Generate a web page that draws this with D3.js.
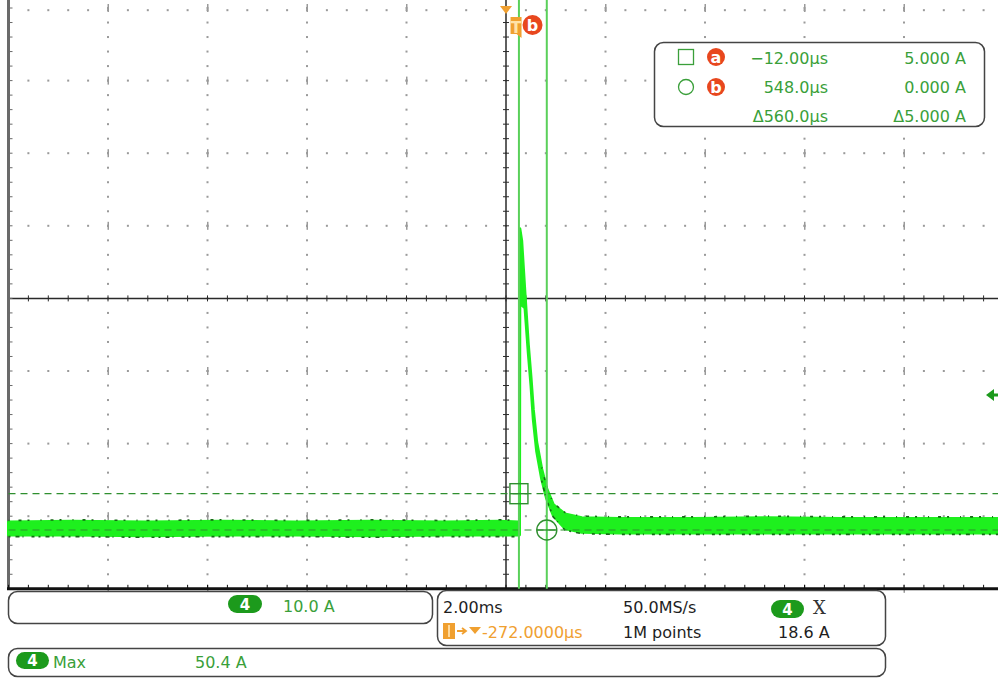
<!DOCTYPE html>
<html>
<head>
<meta charset="utf-8">
<script src="https://cdn.jsdelivr.net/npm/d3@7"></script>
<style>
  body { margin: 0; background: #fff; }
  svg { display: block; font-family: "DejaVu Sans", sans-serif; }
</style>
</head>
<body>
<svg id="scope" width="998" height="678"></svg>
<script>
// scope settings
const timePerDiv = 2000;   // µs
const horizDelay = -272;   // µs, screen centre relative to trigger
const ampsPerDiv = 10;
const centerAmps = 31.9;   // A on the centre graticule line
const triggerLevel = 18.6; // A

// channel 4 trace envelope (µs, A)
const traceTime = [-10272, -9000, -7500, -6000, -4500, -3000, -1500, -400, -20, -1, 6, 44, 110, 176, 231, 277, 345, 446, 546, 679, 914, 1250, 2000, 3500, 5000, 6500, 8000, 9728];
const traceMax = [1.1, 1.2, 1.1, 1.2, 1.1, 1.2, 1.1, 1.2, 1.1, 1.1, 41.5, 39.8, 32.5, 25.6, 21.0, 16.6, 12.1, 8.4, 5.7, 3.5, 2.2, 1.7, 1.6, 1.6, 1.7, 1.6, 1.6, 1.6];
const traceMin = [-0.7, -0.7, -0.8, -0.7, -0.7, -0.8, -0.7, -0.7, -0.7, -0.7, 33.5, 31.0, 30.6, 24.4, 19.8, 15.2, 10.8, 7.0, 4.3, 2.0, 0.2, -0.3, -0.4, -0.4, -0.4, -0.4, -0.4, -0.4];

// cursors
const cursorTime = [-12, 548];
const cursorAmps = [5.0, 0.0];
const cursorNames = ["a", "b"];
const readTime = ["\u221212.00\u00b5s", "548.0\u00b5s", "\u0394560.0\u00b5s"];
const readAmps = ["5.000 A", "0.000 A", "\u03945.000 A"];

// status bar texts
const chanScale = "10.0 A";
const horizTexts = ["2.00ms", "50.0MS/s"];
const horizTexts2 = ["-272.0000\u00b5s", "1M points"];
const trigTexts = ["X", "18.6 A"];
const measName = "Max";
const measValue = "50.4 A";

const green = "#3a9f3a", pill = "#1c9a1c", trace = "#1ef01e", orange = "#f0a030", red = "#e8471e";
const fs = 16;

const svg = d3.select("#scope");
const plotLeft = 8.5, divW = 99.5, plotTop = 8, divH = 72.6;

const x = d3.scaleLinear()
  .domain([horizDelay - 5 * timePerDiv, horizDelay + 5 * timePerDiv])
  .range([plotLeft, plotLeft + 10 * divW]);
const y = d3.scaleLinear()
  .domain([centerAmps - 4 * ampsPerDiv, centerAmps + 4 * ampsPerDiv])
  .range([plotTop + 8 * divH, plotTop]);

const plotBottom = y.range()[0];
const minorT = d3.range(-25, 26).map(i => horizDelay + i * timePerDiv / 5);
const minorA = d3.range(-20, 21).map(i => centerAmps + i * ampsPerDiv / 5);
const majorT = d3.range(-4, 5).filter(i => i !== 0).map(i => horizDelay + i * timePerDiv);
const majorA = d3.range(-4, 4).filter(i => i !== 0).map(i => centerAmps + i * ampsPerDiv);

// graticule dots
const grid = svg.append("g").attr("fill", "#9a9a9a");
majorT.forEach(t => {
  grid.selectAll(null).data(minorA.slice(1)).enter().append("rect")
    .attr("x", x(t) - 1).attr("y", d => y(d) - 1).attr("width", 2).attr("height", 2);
  grid.selectAll(null).data(majorA.concat([centerAmps + 40])).enter().append("rect")
    .attr("x", x(t) - 0.5).attr("y", d => y(d) - 4).attr("width", 1.5).attr("height", 8);
});
majorA.concat([centerAmps + 4 * ampsPerDiv - 0.3]).forEach(a => {
  grid.selectAll(null).data(minorT.filter(t => x(t) > plotLeft + 2)).enter().append("rect")
    .attr("x", d => x(d) - 1).attr("y", y(a) - 1).attr("width", 2).attr("height", 2);
});

// centre lines with minor ticks
const centre = svg.append("g").attr("stroke", "#2a2a2a");
centre.append("line").attr("x1", plotLeft).attr("x2", 998)
  .attr("y1", y(centerAmps)).attr("y2", y(centerAmps)).attr("stroke-width", 1.5);
centre.append("line").attr("x1", x(horizDelay)).attr("x2", x(horizDelay))
  .attr("y1", 0).attr("y2", plotBottom).attr("stroke-width", 1.5);
centre.selectAll(null).data(minorT).enter().append("line")
  .attr("x1", d => x(d)).attr("x2", d => x(d))
  .attr("y1", y(centerAmps) - 3).attr("y2", y(centerAmps) + 3).attr("stroke-width", 1);
centre.selectAll(null).data(minorA).enter().append("line")
  .attr("x1", x(horizDelay) - 3).attr("x2", x(horizDelay) + 3)
  .attr("y1", d => y(d)).attr("y2", d => y(d)).attr("stroke-width", 1);

// frame: left and bottom edges with ticks
svg.append("line").attr("x1", plotLeft).attr("x2", plotLeft).attr("y1", 0).attr("y2", plotBottom)
  .attr("stroke", "#6a6a6a").attr("stroke-width", 3);
svg.selectAll(null).data(minorA).enter().append("line")
  .attr("x1", plotLeft).attr("x2", plotLeft + 4).attr("y1", d => y(d)).attr("y2", d => y(d))
  .attr("stroke", "#6a6a6a");
svg.append("line").attr("x1", plotLeft - 1.5).attr("x2", 998).attr("y1", plotBottom).attr("y2", plotBottom)
  .attr("stroke", "#111").attr("stroke-width", 3);
svg.selectAll(null).data(minorT).enter().append("line")
  .attr("x1", d => x(d)).attr("x2", d => x(d)).attr("y1", plotBottom).attr("y2", plotBottom - 4)
  .attr("stroke", "#111");

// cursor lines
const cur = svg.append("g");
cur.selectAll(null).data(cursorAmps).enter().append("line")
  .attr("x1", plotLeft).attr("x2", 998).attr("y1", d => y(d)).attr("y2", d => y(d))
  .attr("stroke", "#2f8f2f").attr("stroke-width", 1.2).attr("stroke-dasharray", "7,5");

// trace
const pts = traceTime.map((t, i) => ({ t, hi: traceMax[i], lo: traceMin[i] }));
const area = d3.area().x(d => x(d.t)).y0(d => y(d.lo)).y1(d => y(d.hi));
svg.append("path").datum(pts).attr("d", area)
  .attr("fill", trace).attr("stroke", trace).attr("stroke-width", 3).attr("stroke-linejoin", "round");

// darker noise spikes along the band edges (pre-trigger and settled parts only)
const edge = (key) => d3.line().x(d => x(d.t)).y(d => y(d[key]));
const segments = [pts.filter(d => d.t < -5), pts.filter(d => d.t > 400)];
segments.forEach(seg => {
  ["hi", "lo"].forEach((k, i) => {
    svg.append("path").datum(seg).attr("d", edge(k))
      .attr("fill", "none").attr("stroke", "#176a17").attr("stroke-width", 1.6)
      .attr("stroke-dasharray", i ? "2,5,4,3,1,8,3,4" : "1,9,3,6,2,11")
      .attr("transform", `translate(0,${i ? 1.5 : -1.5})`);
  });
});

cur.raise();
cur.selectAll(null).data(cursorTime).enter().append("line")
  .attr("x1", d => x(d)).attr("x2", d => x(d)).attr("y1", 0).attr("y2", plotBottom)
  .attr("stroke", "#5ad05a").attr("stroke-width", 2);

// cursor markers
const mk = svg.append("g").attr("fill", "none").attr("stroke", "#2f8f2f").attr("stroke-width", 1.4);
const ax = x(cursorTime[0]), ay = y(cursorAmps[0]);
const bx = x(cursorTime[1]), by = y(cursorAmps[1]);
mk.append("rect").attr("x", ax - 9).attr("y", ay - 10).attr("width", 18).attr("height", 20);
mk.append("line").attr("x1", ax - 9).attr("x2", ax + 9).attr("y1", ay).attr("y2", ay);
mk.append("circle").attr("cx", bx).attr("cy", by).attr("r", 10);
mk.append("line").attr("x1", bx - 10).attr("x2", bx + 10).attr("y1", by).attr("y2", by);

// trigger level marker on the right
const ty = y(triggerLevel);
svg.append("path").attr("d", `M986,${ty} L994,${ty - 6} L994,${ty + 6} Z M992,${ty - 1.5} H998 V${ty + 1.5} H992 Z`)
  .attr("fill", pill);

// trigger position markers on top
const cx0 = x(horizDelay), tx = x(0);
svg.append("path").attr("d", `M${cx0 - 6},6 L${cx0 + 6},6 L${cx0},14 Z`).attr("fill", orange);
svg.append("path").attr("d", `M${tx - 9},17 H${tx + 2} V38 L${tx - 3},34 H${tx - 9} Z`).attr("fill", orange);
svg.append("text").attr("x", tx - 3.5).attr("y", 33).attr("text-anchor", "middle")
  .attr("fill", "#ffe2a8").attr("font-size", 16).attr("font-weight", "bold").text("T");

const badge = (g, cx, cy, r, letter) => {
  g.append("circle").attr("cx", cx).attr("cy", cy).attr("r", r).attr("fill", red);
  g.append("text").attr("x", cx).attr("y", cy + 5.5).attr("text-anchor", "middle")
    .attr("fill", "#fff").attr("font-size", 16).attr("font-weight", "bold").text(letter);
};
badge(svg, tx + 13, 25, 10, cursorNames[1]);

// cursor readout box
const rb = svg.append("g");
rb.append("rect").attr("x", 654.5).attr("y", 42.5).attr("width", 330).attr("height", 84).attr("rx", 9)
  .attr("fill", "#fff").attr("stroke", "#444").attr("stroke-width", 1.5);
rb.append("rect").attr("x", 678.5).attr("y", 49.5).attr("width", 15).attr("height", 15)
  .attr("fill", "none").attr("stroke", green).attr("stroke-width", 1.3);
rb.append("circle").attr("cx", 686).attr("cy", 87).attr("r", 7.5)
  .attr("fill", "none").attr("stroke", green).attr("stroke-width", 1.3);
badge(rb, 716, 57, 9, cursorNames[0]);
badge(rb, 716, 87, 9, cursorNames[1]);
const rowY = [64, 93, 122];
rb.selectAll(null).data(readTime).enter().append("text")
  .attr("x", 828).attr("y", (d, i) => rowY[i]).attr("text-anchor", "end")
  .attr("fill", green).attr("font-size", fs).text(d => d);
rb.selectAll(null).data(readAmps).enter().append("text")
  .attr("x", 966).attr("y", (d, i) => rowY[i]).attr("text-anchor", "end")
  .attr("fill", green).attr("font-size", fs).text(d => d);

// status bars
const box = (bx, by, w, h) => svg.append("rect").attr("x", bx).attr("y", by).attr("width", w).attr("height", h)
  .attr("rx", 9).attr("fill", "#fff").attr("stroke", "#444").attr("stroke-width", 1.5);
const chip = (cx, cy, w, h) => {
  svg.append("rect").attr("x", cx).attr("y", cy).attr("width", w).attr("height", h).attr("rx", h / 2).attr("fill", pill);
  svg.append("text").attr("x", cx + w / 2).attr("y", cy + h - 3).attr("text-anchor", "middle")
    .attr("fill", "#fff").attr("font-size", 15).attr("font-weight", "bold").text("4");
};
const label = (lx, ly, s, fill, extra) => {
  const t = svg.append("text").attr("x", lx).attr("y", ly).attr("fill", fill).attr("font-size", fs).text(s);
  if (extra) extra(t);
  return t;
};

box(8.5, 591.5, 424, 32);
chip(228, 595, 34, 18);
label(283, 612, chanScale, green);

box(437.5, 590.5, 448, 55);
label(443, 613, horizTexts[0], "#1e1e1e");
label(623, 613, horizTexts[1], "#1e1e1e");
chip(771, 600, 33, 18);
label(813, 614, trigTexts[0], "#333", t => t.attr("font-family", "DejaVu Serif, serif").attr("font-size", 18));
svg.append("rect").attr("x", 443).attr("y", 623).attr("width", 12).attr("height", 16).attr("fill", orange);
svg.append("rect").attr("x", 448).attr("y", 625).attr("width", 2).attr("height", 12).attr("fill", "#ffd99a");
svg.append("path").attr("d", "M457,631 H465 M462,628 L466,631 L462,634").attr("stroke", orange)
  .attr("stroke-width", 1.8).attr("fill", "none");
svg.append("path").attr("d", "M469,627 H481 L475,634 Z").attr("fill", orange);
label(482, 638, horizTexts2[0], orange);
label(623, 638, horizTexts2[1], "#1e1e1e");
label(778, 638, trigTexts[1], "#1e1e1e");

box(8.5, 648.5, 877, 28);
chip(16, 652, 33, 17);
label(53, 668, measName, green);
label(195, 668, measValue, green);
</script>
</body>
</html>
